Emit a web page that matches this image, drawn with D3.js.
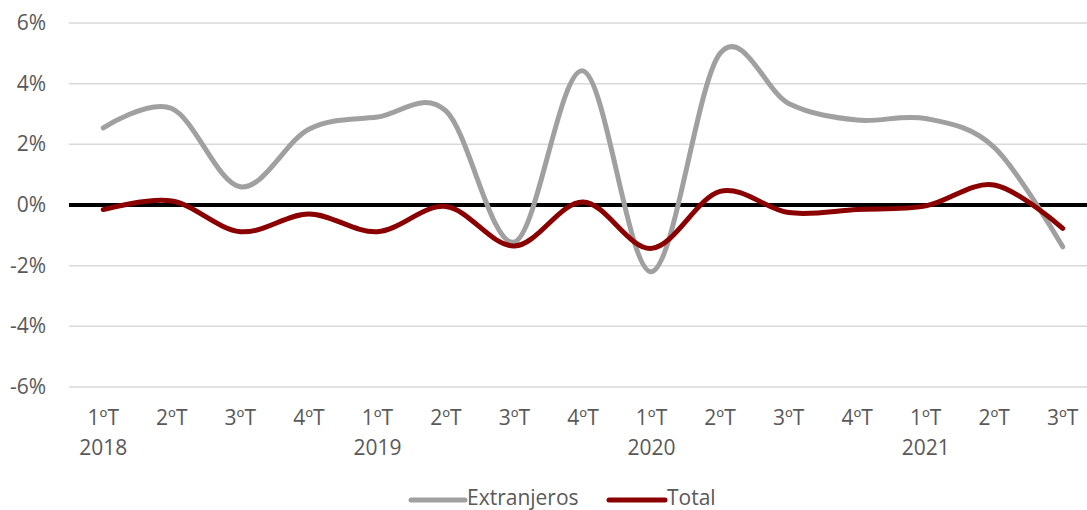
<!DOCTYPE html>
<html>
<head>
<meta charset="utf-8">
<script src="https://cdn.jsdelivr.net/npm/d3@7"></script>
<style>
  html, body { margin: 0; padding: 0; background: #fff; }
  svg text { font-family: "Open Sans", sans-serif; fill: #595959; }
</style>
</head>
<body>
<svg id="chart" width="1087" height="510"></svg>
<script>
(function() {
    'use strict';

    // data
    var quarters = ['1ºT', '2ºT', '3ºT', '4ºT', '1ºT', '2ºT', '3ºT', '4ºT', '1ºT', '2ºT', '3ºT', '4ºT', '1ºT', '2ºT', '3ºT'];
    var years = ['2018', '', '', '', '2019', '', '', '', '2020', '', '', '', '2021', '', ''];
    var extranjeros = [2.54, 3.18, 0.6, 2.5, 2.9, 3.1, -1.22, 4.42, -2.2, 5.0, 3.35, 2.8, 2.85, 1.9, -1.38];
    var total = [-0.15, 0.13, -0.88, -0.3, -0.88, -0.05, -1.35, 0.1, -1.43, 0.45, -0.25, -0.15, -0.03, 0.66, -0.77];
    var yTicks = [-6, -4, -2, 0, 2, 4, 6];
    var series = [
        { name: 'Extranjeros', values: extranjeros, color: '#a0a0a0' },
        { name: 'Total', values: total, color: '#8b0000' }
    ];

    var svg = d3.select('#chart');
    var left = 69, right = 1097, top = 23, bottom = 387;
    var fs = '21px';

    var x = d3.scaleBand()
        .domain(d3.range(quarters.length))
        .range([left, right]);
    var y = d3.scaleLinear()
        .domain([-6, 6])
        .range([bottom, top]);

    // grid
    svg.append('g').selectAll('line')
        .data(yTicks)
        .join('line')
        .attr('x1', left).attr('x2', 1087)
        .attr('y1', function(d) { return y(d); })
        .attr('y2', function(d) { return y(d); })
        .attr('stroke', '#d9d9d9')
        .attr('stroke-width', 1.5);

    // y labels
    svg.append('g').selectAll('text')
        .data(yTicks)
        .join('text')
        .attr('x', 46)
        .attr('y', function(d) { return y(d) + 7; })
        .attr('text-anchor', 'end')
        .style('font-size', fs)
        .text(function(d) { return d + '%'; });

    // zero line
    svg.append('line')
        .attr('x1', left).attr('x2', 1087)
        .attr('y1', y(0)).attr('y2', y(0))
        .attr('stroke', '#000')
        .attr('stroke-width', 4);

    // x labels
    var xl = svg.append('g');
    xl.selectAll('text.q')
        .data(quarters)
        .join('text')
        .attr('class', 'q')
        .attr('x', function(d, i) { return x(i) + x.bandwidth() / 2; })
        .attr('y', 425)
        .attr('text-anchor', 'middle')
        .style('font-size', fs)
        .text(function(d) { return d; });
    xl.selectAll('text.yr')
        .data(years)
        .join('text')
        .attr('class', 'yr')
        .attr('x', function(d, i) { return x(i) + x.bandwidth() / 2; })
        .attr('y', 455)
        .attr('text-anchor', 'middle')
        .style('font-size', fs)
        .text(function(d) { return d; });

    // lines
    var line = d3.line()
        .x(function(d, i) { return x(i) + x.bandwidth() / 2; })
        .y(function(d) { return y(d); })
        .curve(d3.curveCardinal.tension(0));

    svg.append('g').selectAll('path')
        .data(series)
        .join('path')
        .attr('d', function(s) { return line(s.values); })
        .attr('fill', 'none')
        .attr('stroke', function(s) { return s.color; })
        .attr('stroke-width', 5)
        .attr('stroke-linecap', 'round')
        .attr('stroke-linejoin', 'round');

    // legend
    var legend = [
        { s: series[0], x1: 411, x2: 465, tx: 467 },
        { s: series[1], x1: 609, x2: 665, tx: 667 }
    ];
    var lg = svg.append('g');
    legend.forEach(function(l) {
        lg.append('line')
            .attr('x1', l.x1).attr('x2', l.x2)
            .attr('y1', 500).attr('y2', 500)
            .attr('stroke', l.s.color)
            .attr('stroke-width', 5)
            .attr('stroke-linecap', 'round');
        lg.append('text')
            .attr('x', l.tx)
            .attr('y', 505)
            .style('font-size', fs)
            .text(l.s.name);
    });
})();
</script>
</body>
</html>
